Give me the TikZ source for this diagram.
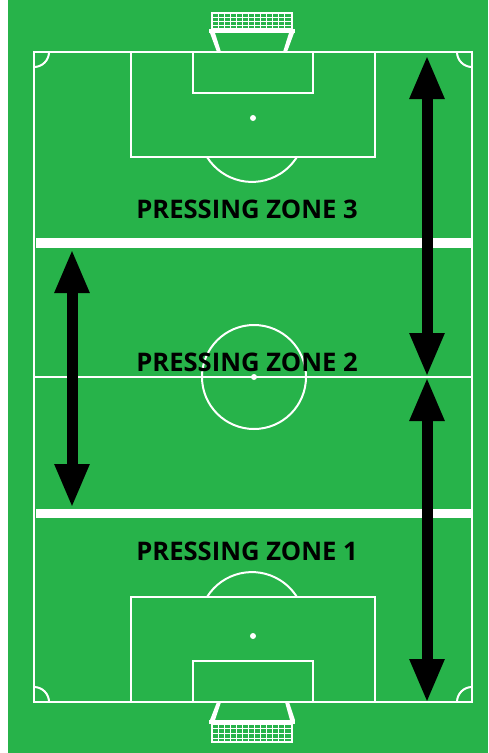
\documentclass[tikz,border=0pt]{standalone}
\usepackage{fontspec}
\setsansfont{Open Sans}
\usetikzlibrary{arrows.meta,positioning}
\definecolor{pitchgrn}{RGB}{39,179,74}
\tikzset{
  pline/.style={draw=white,line width=2pt},
  band/.style={fill=white,draw=none},
  netln/.style={draw=white,line width=0.7pt},
  netbox/.style={draw=white,line width=1.3pt},
  post/.style={fill=white,draw=none},
  spot/.style={fill=white,draw=none},
  zonelbl/.style={font=\sffamily\bfseries\fontsize{25.6}{30}\selectfont,
    text=black,inner sep=0pt,anchor=center},
  zarr/.style={{Triangle[length=44pt,width=32pt]}-{Triangle[length=44pt,width=32pt]},
    line width=11pt,color=black},
}

\begin{document}
\begin{tikzpicture}[x=1pt,y=-1pt]
  \useasboundingbox (0,0) rectangle (488,753);
  \fill[pitchgrn] (8,0) rectangle (488,753);

  %% Outline, halfway line, zone bands
  \draw[pline] (34,52) rectangle (472,702);
  \draw[pline] (34,377) -- (472,377);
  \fill[band] (36,238) rectangle (471,248);
  \fill[band] (36,509) rectangle (471,518);

  %% Corner arcs
  \draw[pline] (49,52) arc[start angle=0,end angle=90,radius=15];
  \draw[pline] (457,52) arc[start angle=180,end angle=90,radius=15];
  \draw[pline] (49,702) arc[start angle=0,end angle=-90,radius=15];
  \draw[pline] (457,702) arc[start angle=180,end angle=270,radius=15];

  %% Centre circle
  \draw[pline] (254,377) circle[radius=52];
  \fill[spot] (254,377) circle[radius=3];

  %% Top end
  \draw[pline] (131,52) rectangle (375,157);
  \draw[pline] (193,52) rectangle (313,93);
  \fill[spot] (253,118) circle[radius=3];
  \draw[pline] (207,157) arc[start angle=148,end angle=32,radius=53];

  %% Bottom end
  \draw[pline] (131,597) rectangle (375,702);
  \draw[pline] (193,661) rectangle (313,702);
  \fill[spot] (253,636) circle[radius=3];
  \draw[pline] (207,597) arc[start angle=212,end angle=328,radius=53];

  %% Top goal
  \foreach \x in {218,224,...,286}{
    \draw[netln] (\x,13) -- (\x,29);
  }
  \foreach \y in {17,21,25}{
    \draw[netln] (212,\y) -- (292,\y);
  }
  \draw[netbox] (212,13) rectangle (292,29);
  \fill[post] (209,29) rectangle (295,33);
  \fill[post] (210,33) -- (215,33) -- (221,52) -- (217,52) -- cycle;
  \fill[post] (289,33) -- (294,33) -- (287,52) -- (283,52) -- cycle;

  %% Bottom goal
  \foreach \x in {218,224,...,286}{
    \draw[netln] (\x,724) -- (\x,742);
  }
  \foreach \y in {728,733,738}{
    \draw[netln] (212,\y) -- (292,\y);
  }
  \draw[netbox] (212,724) rectangle (292,742);
  \fill[post] (209,720) rectangle (295,724);
  \fill[post] (217,702) -- (221,702) -- (215,720) -- (210,720) -- cycle;
  \fill[post] (285,702) -- (289,702) -- (295,720) -- (290,720) -- cycle;

  %% Zone labels
  \node[zonelbl] (zone3) at (247,209) {PRESSING ZONE 3};
  \node[zonelbl] (zone2) at (247,362) {PRESSING ZONE 2};
  \node[zonelbl] (zone1) at (247,551) {PRESSING ZONE 1};

  %% Arrow end points
  \coordinate (ltop) at (72,249);
  \coordinate (lbot) at (72,508);
  \coordinate (rtop) at (427,55);
  \coordinate (rmid) at (427,377);
  \coordinate (rbot) at (427,703);

  \draw[zarr] (ltop) -- (lbot);
  \draw[zarr] (rtop) -- (rmid);
  \draw[zarr] (rmid) -- (rbot);

\end{tikzpicture}
\end{document}
